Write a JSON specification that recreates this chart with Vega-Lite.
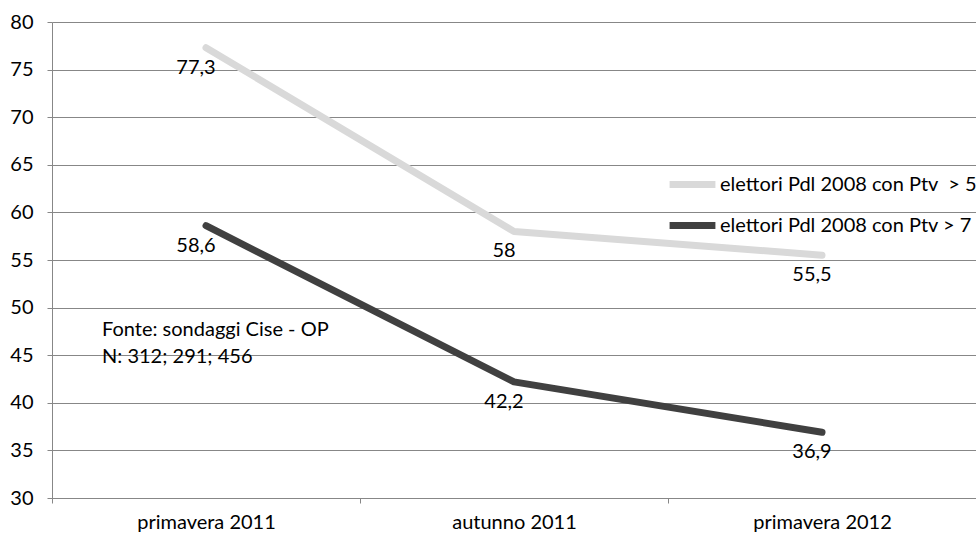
{
  "$schema": "https://vega.github.io/schema/vega-lite/v6.json",
  "width": 924,
  "height": 476,
  "autosize": {"type": "none"},
  "padding": {"left": 52, "top": 22, "right": 0, "bottom": 40},
  "background": "white",
  "config": {
    "locale": {"number": {"decimal": ",", "thousands": ".", "grouping": [3], "currency": ["", " €"]}},
    "view": {"stroke": null},
    "font": "Lato",
    "axis": {"labelFont": "Lato", "labelFontSize": 20, "labelColor": "#000000", "domainColor": "#878787", "tickColor": "#878787", "gridColor": "#878787", "gridOpacity": 1, "tickSize": 5}
  },
  "data": {
    "values": [
      {"periodo": "primavera 2011", "serie": "elettori Pdl 2008 con Ptv \u00a0> 5", "valore": 77.3},
      {"periodo": "autunno 2011", "serie": "elettori Pdl 2008 con Ptv \u00a0> 5", "valore": 58},
      {"periodo": "primavera 2012", "serie": "elettori Pdl 2008 con Ptv \u00a0> 5", "valore": 55.5},
      {"periodo": "primavera 2011", "serie": "elettori Pdl 2008 con Ptv > 7", "valore": 58.6},
      {"periodo": "autunno 2011", "serie": "elettori Pdl 2008 con Ptv > 7", "valore": 42.2},
      {"periodo": "primavera 2012", "serie": "elettori Pdl 2008 con Ptv > 7", "valore": 36.9}
    ]
  },
  "encoding": {
    "x": {
      "field": "periodo", "type": "nominal", "sort": null,
      "scale": {"type": "band", "paddingInner": 0, "paddingOuter": 0, "domain": ["primavera 2011", "autunno 2011", "primavera 2012"]},
      "axis": {"title": null, "labelAngle": 0, "tickBand": "extent", "labelPadding": 9, "domain": true, "grid": false}
    },
    "y": {
      "field": "valore", "type": "quantitative",
      "scale": {"domain": [30, 80], "nice": false, "zero": false},
      "axis": {"title": null, "values": [30, 35, 40, 45, 50, 55, 60, 65, 70, 75, 80], "grid": true, "labelPadding": 14, "domain": true}
    }
  },
  "layer": [
    {
      "mark": {"type": "line", "strokeWidth": 7, "strokeCap": "round", "strokeJoin": "round"},
      "encoding": {
        "color": {
          "field": "serie", "type": "nominal",
          "scale": {"domain": ["elettori Pdl 2008 con Ptv \u00a0> 5", "elettori Pdl 2008 con Ptv > 7"], "range": ["#d9d9d9", "#404040"]},
          "legend": {
            "title": null, "orient": "none", "legendX": 614, "legendY": 136,
            "symbolType": "stroke", "symbolStrokeWidth": 7, "symbolSize": 2100,
            "labelFont": "Lato", "labelFontSize": 20, "labelColor": "#000000", "labelOffset": 1,
            "rowPadding": -8, "labelLimit": 400
          }
        }
      }
    },
    {
      "mark": {"type": "text", "fontSize": 20, "font": "Lato", "color": "#000000", "dx": -10, "dy": 20, "align": "center", "baseline": "middle"},
      "encoding": {
        "text": {"field": "valore", "type": "quantitative", "format": ".3~r"}
      }
    },
    {
      "data": {"values": [
        {"periodo": "primavera 2011", "valore": 47.6, "testo": "Fonte: sondaggi Cise - OP"},
        {"periodo": "primavera 2011", "valore": 44.8, "testo": "N: 312; 291; 456"}
      ]},
      "mark": {"type": "text", "fontSize": 20, "font": "Lato", "color": "#000000", "align": "left", "baseline": "middle", "dx": -104},
      "encoding": {"text": {"field": "testo"}}
    }
  ]
}
